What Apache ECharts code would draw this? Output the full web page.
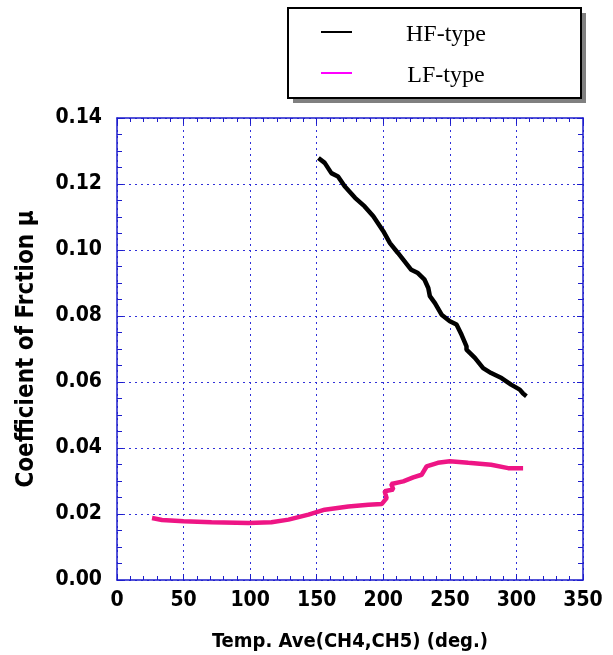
<!DOCTYPE html>
<html>
<head>
<meta charset="utf-8">
<script src="https://cdn.jsdelivr.net/npm/echarts@6/dist/echarts.min.js"></script>
<style>
html,body{margin:0;padding:0;background:#fff;}
#chart{width:613px;height:655px;}
</style>
</head>
<body>
<div id="chart"></div>
<script>
// HF-type: temperature (deg.) and friction coefficient
const hfTemp = [151.3,156,161,166,171,178.8,186,192.5,200,205,211,221,226,231,233.8,235,238.8,243.8,250,255,258.8,262.5,262.5,268.8,275,281,288.8,296,302.5,305,307.5];
const hfMu   = [0.1279,0.1264,0.1233,0.1223,0.1193,0.1158,0.1132,0.1102,0.1057,0.1021,0.0991,0.0940,0.0930,0.0910,0.0885,0.0860,0.0839,0.0804,0.0784,0.0774,0.0743,0.0708,0.0698,0.0673,0.0642,0.0627,0.0612,0.0592,0.0577,0.0565,0.0557];
// LF-type
const lfTemp = [26.3,33.8,50,71,98.8,116,128.8,143.8,156,173.8,188.8,198.8,202.5,201,207.5,206,215,222.5,228.8,232.5,241,250,263.8,281,293.8,305];
const lfMu   = [0.0188,0.0182,0.0178,0.0175,0.0173,0.0175,0.0183,0.0198,0.0213,0.0223,0.0228,0.0230,0.0248,0.0269,0.0274,0.0291,0.0299,0.0311,0.0319,0.0344,0.0355,0.0360,0.0355,0.0349,0.0339,0.0339];
const seriesNames = ['HF-type','LF-type'];
const xTitle = 'Temp. Ave(CH4,CH5) (deg.)';
const yTitle = 'Coefficient of Frction \u03bc';

const pair = (xs, ys) => xs.map((x, i) => [x, ys[i]]);
const FONT = "'DejaVu Sans Condensed','Liberation Sans Narrow',sans-serif";
const BLUE = '#1c1ccc';

const chart = echarts.init(document.getElementById('chart'), null, {renderer:'canvas'});
const mirrorAxis = {
  axisLine:{show:true, onZero:false, lineStyle:{color:BLUE, width:1.5}},
  axisTick:{show:true, inside:true, length:6, lineStyle:{color:BLUE}},
  axisLabel:{show:false},
  splitLine:{show:false}
};
chart.setOption({
  animation:false,
  backgroundColor:'#fff',
  grid:{left:117, right:30, top:118, bottom:75, containLabel:false, outerBoundsMode:'none'},
  graphic:[{
    type:'rect', left:293, top:13, z:0,
    shape:{width:293, height:90},
    style:{fill:'#808080'}
  }],
  legend:{
    left:288, top:8, z:5,
    orient:'vertical',
    icon:'path://M0,0h31v2h-31z',
    itemWidth:31, itemHeight:2,
    itemGap:11,
    padding:[9,46,10,33],
    borderColor:'#000', borderWidth:2,
    backgroundColor:'#fff',
    data:[{name:seriesNames[0], itemStyle:{color:'#000'}},{name:seriesNames[1], itemStyle:{color:'#ff00ff'}}],
    formatter: n => '{a|' + n + '}',
    textStyle:{rich:{a:{fontFamily:"'Liberation Serif','Times New Roman',serif", fontSize:24, color:'#000', width:178, align:'center', lineHeight:24, padding:[6,0,0,0]}}}
  },
  xAxis:[{
    type:'value', min:0, max:350, interval:50, position:'bottom',
    name:xTitle, nameLocation:'middle', nameGap:52,
    nameTextStyle:{fontFamily:FONT, fontWeight:'bold', fontSize:20, color:'#000'},
    axisLine:{show:true, onZero:false, lineStyle:{color:BLUE, width:1.5}},
    axisTick:{show:true, inside:true, length:6, lineStyle:{color:BLUE}},
    minorTick:{show:true, splitNumber:5, length:4, lineStyle:{color:BLUE}},
    axisLabel:{margin:10, fontFamily:FONT, fontWeight:'bold', fontSize:21, color:'#000'},
    splitLine:{show:true, lineStyle:{color:'#3030d8', type:[2,4], width:1}}
  },{
    type:'value', min:0, max:350, interval:50, position:'top',
    ...mirrorAxis,
    minorTick:{show:true, splitNumber:5, length:4, lineStyle:{color:BLUE}}
  }],
  yAxis:[{
    type:'value', min:0, max:0.14, interval:0.02, position:'left',
    name:yTitle, nameLocation:'middle', nameGap:78,
    nameTextStyle:{fontFamily:FONT, fontWeight:'bold', fontSize:24, color:'#000'},
    axisLine:{show:true, onZero:false, lineStyle:{color:BLUE, width:1.5}},
    axisTick:{show:true, inside:true, length:6, lineStyle:{color:BLUE}},
    minorTick:{show:true, splitNumber:4, length:5, lineStyle:{color:BLUE}},
    axisLabel:{margin:15, fontFamily:FONT, fontWeight:'bold', fontSize:21, color:'#000', formatter:v => v.toFixed(2)},
    splitLine:{show:true, lineStyle:{color:'#3030d8', type:[2,4], width:1}}
  },{
    type:'value', min:0, max:0.14, interval:0.02, position:'right',
    ...mirrorAxis,
    minorTick:{show:true, splitNumber:4, length:5, lineStyle:{color:BLUE}}
  }],
  series:[{
    name:seriesNames[0], type:'line', showSymbol:false, symbol:'none',
    data:pair(hfTemp, hfMu),
    lineStyle:{color:'#000', width:4.5}, itemStyle:{color:'#000'}, z:3
  },{
    name:seriesNames[1], type:'line', showSymbol:false, symbol:'none',
    data:pair(lfTemp, lfMu),
    lineStyle:{color:'#ee1585', width:4.5}, itemStyle:{color:'#ee1585'}, z:3
  }]
});
</script>
</body>
</html>
